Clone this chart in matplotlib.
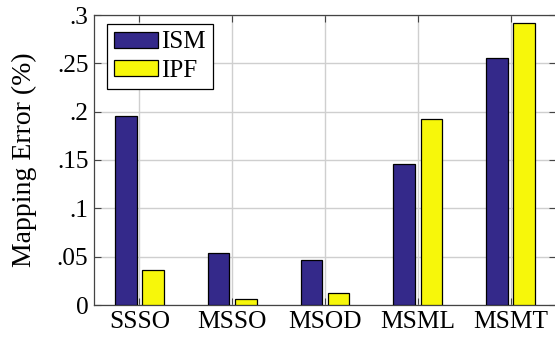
import numpy as np
import matplotlib
matplotlib.use("Agg")
import matplotlib.pyplot as plt

categories = ["SSSO", "MSSO", "MSOD", "MSML", "MSMT"]
ism = [0.195, 0.054, 0.047, 0.146, 0.256]
ipf = [0.036, 0.0065, 0.012, 0.192, 0.292]
yticks = [0, 0.05, 0.1, 0.15, 0.2, 0.25, 0.3]
ytick_labels = ["0", ".05", ".1", ".15", ".2", ".25", ".3"]

plt.rcParams["font.family"] = ["Liberation Serif", "DejaVu Serif"]

fig = plt.figure(figsize=(5.55, 3.40), dpi=100)
ax = fig.add_axes([94 / 555, 35 / 340, 462 / 555, 290 / 340])

x = np.arange(len(categories))
w = 0.232
off = 0.146
ax.bar(x - off, ism, w, color="#34298a", edgecolor="black", linewidth=0.9, label="ISM", zorder=3)
ax.bar(x + off, ipf, w, color="#f7f70a", edgecolor="black", linewidth=0.9, label="IPF", zorder=3)

ax.set_xlim(-0.49, 4.49)
ax.set_ylim(0, 0.3)
ax.set_xticks(x)
ax.set_xticklabels(categories, fontsize=18.3)
ax.set_yticks(yticks)
ax.set_yticklabels(ytick_labels, fontsize=18.3)
ax.set_ylabel("Mapping Error (%)", fontsize=20)
ax.yaxis.set_label_coords(-0.123, 0.5)

ax.grid(True, color="#cfcfcf", linewidth=1.0, zorder=0)
ax.set_axisbelow(True)
ax.tick_params(direction="in", length=5, width=0.8, color="#444444",
               top=True, right=True, pad=4)
for s in ax.spines.values():
    s.set_color("#444444")
    s.set_linewidth(0.9)

leg = ax.legend(loc="upper left", bbox_to_anchor=(0.028, 0.969), fontsize=18,
                frameon=True, fancybox=False, edgecolor="black", framealpha=1,
                handlelength=1.75, handleheight=0.6, handletextpad=0.1,
                borderpad=0.3, labelspacing=0.25, borderaxespad=0)
leg.get_frame().set_linewidth(0.9)

fig.savefig("out.png", dpi=100)
